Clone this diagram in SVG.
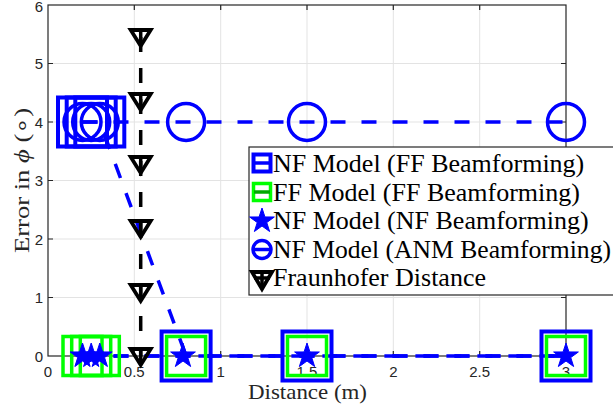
<svg xmlns="http://www.w3.org/2000/svg" xmlns:xlink="http://www.w3.org/1999/xlink" width="613" height="408" viewBox="0 0 613 408">
<style>
.grid{stroke:#e3e3e3;stroke-width:1;fill:none}
.axis{stroke:#262626;stroke-width:1.2;fill:none}
.tick{font-family:"Liberation Sans",Arial,sans-serif;font-size:15px;fill:#262626}
.lab{font-family:"Liberation Serif","Times New Roman",serif;font-size:22px;fill:#262626}
.leg{font-family:"Liberation Serif","Times New Roman",serif;font-size:26px;fill:#000}
.bl{stroke:#0000ff;stroke-width:3.5;fill:none;stroke-dasharray:15 16}
.bk{stroke:#000;stroke-width:3.5;fill:none;stroke-dasharray:15 16}
.sqb{stroke:#0000ff;stroke-width:4;fill:none}
.sqg{stroke:#00ff00;stroke-width:3.5;fill:none}
.cir{stroke:#0000ff;stroke-width:3.5;fill:none}
.star{fill:#0000ff;stroke:#0000ff;stroke-width:1}
.tri{fill:none;stroke:#000;stroke-width:3.8;stroke-linejoin:miter}
</style>
<defs>
<rect id="bsq" x="-24.5" y="-24.5" width="49" height="49" class="sqb"/>
<rect id="gsq" x="-19.5" y="-19.5" width="39" height="39" class="sqg"/>
<circle id="cir" r="18.5" class="cir"/>
<path id="star" class="star" d="M0,-13 L2.94,-4.05 L12.36,-4.02 L4.76,1.55 L7.64,10.52 L0,5 L-7.64,10.52 L-4.76,1.55 L-12.36,-4.02 L-2.94,-4.05 Z"/>
<g id="tri"><path class="tri" d="M-10,-7 L10,-7 L0,9 Z"/><path d="M0,-7V9" stroke="#000" stroke-width="3.5"/></g>
</defs>
<rect width="613" height="408" fill="#fff"/>
<g id="grid">
<path class="grid" d="M134.3,5V356M220.7,5V356M307,5V356M393.3,5V356M479.7,5V356M48,297.5H566M48,239H566M48,180.5H566M48,122H566M48,63.5H566"/>
</g>
<g id="axes">
<rect class="axis" x="48" y="5" width="518" height="351"/>
<path class="axis" d="M134.3,356v-5M220.7,356v-5M307,356v-5M393.3,356v-5M479.7,356v-5M134.3,5v5M220.7,5v5M307,5v5M393.3,5v5M479.7,5v5M48,297.5h5M48,239h5M48,180.5h5M48,122h5M48,63.5h5M566,297.5h-5M566,239h-5M566,180.5h-5M566,122h-5M566,63.5h-5"/>
<g class="tick" text-anchor="middle">
<text x="48" y="377">0</text><text x="134.3" y="377">0.5</text><text x="220.7" y="377">1</text><text x="307" y="377">1.5</text><text x="393.3" y="377">2</text><text x="479.7" y="377">2.5</text><text x="566" y="377">3</text>
</g>
<g class="tick" text-anchor="end">
<text x="43" y="361.5">0</text><text x="43" y="303">1</text><text x="43" y="244.5">2</text><text x="43" y="186">3</text><text x="43" y="127.5">4</text><text x="43" y="69">5</text><text x="43" y="12">6</text>
</g>
<text class="lab" x="307.5" y="399" text-anchor="middle" textLength="119" lengthAdjust="spacingAndGlyphs">Distance (m)</text>
<text class="lab" transform="translate(29,180.5) rotate(-90)" text-anchor="middle" textLength="145" lengthAdjust="spacingAndGlyphs">Error in <tspan font-style="italic">ϕ</tspan> (∘)</text>
</g>
<g id="connectors">
<path id="line-nf-ff" class="bl" d="M82.5,122H99.8L186.1,356H566"/>
<path id="line-ff-ff" class="bl" d="M82.5,356H566"/>
<path id="line-nf-nf" class="bl" d="M82.5,356H566"/>
<path id="line-nf-anm" class="bl" d="M82.5,122H566"/>
<path id="line-fraunhofer" class="bk" d="M140.7,37V356"/>
</g>
<g id="series-nf-ff">
<use xlink:href="#bsq" x="82.5" y="122"/><use xlink:href="#bsq" x="91.2" y="122"/><use xlink:href="#bsq" x="99.8" y="122"/>
<use xlink:href="#bsq" x="186.1" y="356"/><use xlink:href="#bsq" x="307" y="356"/><use xlink:href="#bsq" x="566" y="356"/>
</g>
<g id="series-ff-ff">
<use xlink:href="#gsq" x="82.5" y="356"/><use xlink:href="#gsq" x="91.2" y="356"/><use xlink:href="#gsq" x="99.8" y="356"/>
<use xlink:href="#gsq" x="186.1" y="356"/><use xlink:href="#gsq" x="307" y="356"/><use xlink:href="#gsq" x="566" y="356"/>
</g>
<g id="series-nf-nf">
<use xlink:href="#star" x="82.5" y="356"/><use xlink:href="#star" x="91.2" y="356"/><use xlink:href="#star" x="99.8" y="356"/>
<use xlink:href="#star" x="183" y="356"/><use xlink:href="#star" x="307" y="356"/><use xlink:href="#star" x="566" y="356"/>
</g>
<g id="series-nf-anm">
<use xlink:href="#cir" x="82.5" y="122"/><use xlink:href="#cir" x="91.2" y="122"/><use xlink:href="#cir" x="99.8" y="122"/>
<use xlink:href="#cir" x="186.1" y="122"/><use xlink:href="#cir" x="307" y="122"/><use xlink:href="#cir" x="566" y="122"/>
</g>
<g id="series-fraunhofer">
<use xlink:href="#tri" x="140.7" y="37"/><use xlink:href="#tri" x="140.7" y="101"/><use xlink:href="#tri" x="140.7" y="164"/>
<use xlink:href="#tri" x="140.7" y="228"/><use xlink:href="#tri" x="140.7" y="292"/><use xlink:href="#tri" x="140.7" y="356"/>
</g>
<g id="legend">
<rect x="249" y="147" width="370" height="148" fill="#fff" stroke="#262626" stroke-width="1.2"/>
<rect x="253.5" y="154.5" width="17" height="17" class="sqb" stroke-width="3.5"/>
<path d="M254,163H270" stroke="#0000ff" stroke-width="3.5"/>
<rect x="253.5" y="183.5" width="17" height="17" class="sqg"/>
<path d="M254,192H270" stroke="#00aa00" stroke-width="3.5"/>
<use xlink:href="#star" x="262" y="221"/>
<circle cx="262" cy="249.5" r="9" class="cir"/>
<path d="M254,249.5H270" stroke="#0000ff" stroke-width="3.5"/>
<path d="M252,272 L272,272 L262,289 Z" class="tri"/>
<path d="M254,278H270M262,272V289" stroke="#000" stroke-width="3.5"/>
<text class="leg" x="273" y="172">NF Model (FF Beamforming)</text>
<text class="leg" x="273" y="200.5">FF Model (FF Beamforming)</text>
<text class="leg" x="273" y="229">NF Model (NF Beamforming)</text>
<text class="leg" x="273" y="258" textLength="338" lengthAdjust="spacingAndGlyphs">NF Model (ANM Beamforming)</text>
<text class="leg" x="273" y="286">Fraunhofer Distance</text>
</g>
</svg>
